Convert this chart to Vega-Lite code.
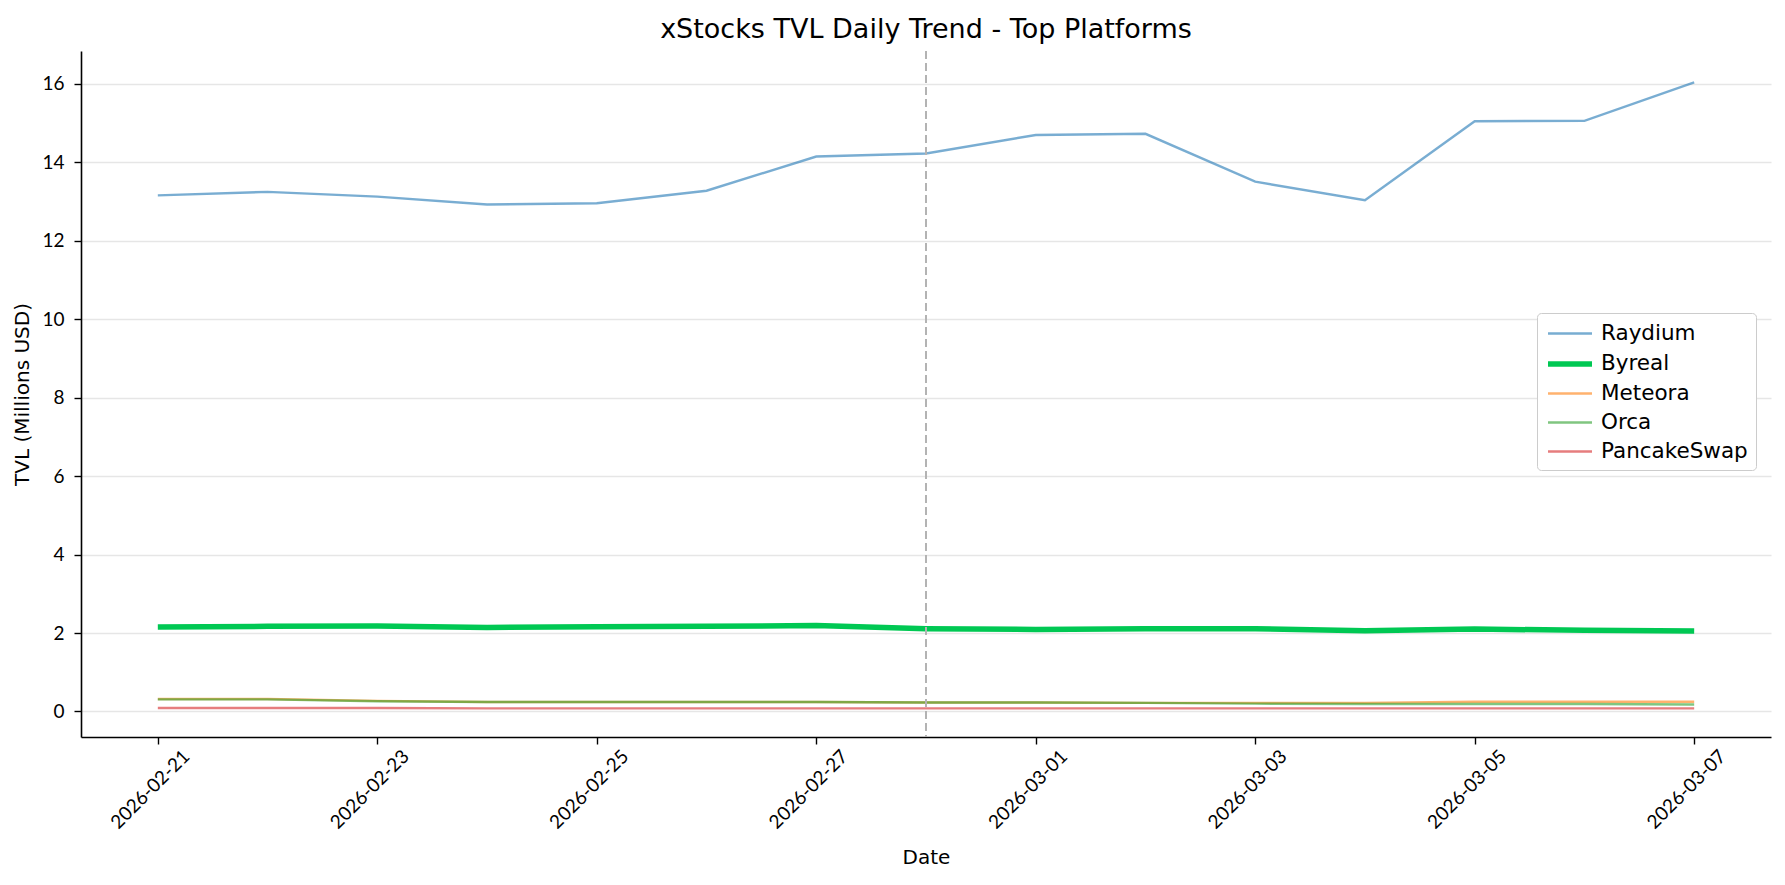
{
  "$schema": "https://vega.github.io/schema/vega-lite/v6.json",
  "autosize": "none",
  "width": 1690,
  "height": 686,
  "padding": {"left": 81, "top": 51, "right": 14, "bottom": 148},
  "background": "white",
  "title": {"text": "xStocks TVL Daily Trend - Top Platforms", "fontSize": 27, "font": "DejaVu Sans", "fontWeight": "normal", "color": "black", "offset": 6},
  "config": {
    "view": {"stroke": null},
    "font": "DejaVu Sans",
    "axis": {
      "domainColor": "black", "domainWidth": 1.6, "tickColor": "black", "tickWidth": 1.4, "tickSize": 7,
      "labelFont": "Lato", "labelFontSize": 19, "labelColor": "black", "labelPadding": 10,
      "titleFont": "DejaVu Sans", "titleFontSize": 20, "titleFontWeight": "normal", "titleColor": "black",
      "gridColor": "#e6e6e6", "gridWidth": 1.3
    },
    "legend": {
      "orient": "none", "legendX": 1456, "legendY": 262,
      "symbolType": "M-2,0H2", "symbolSize": 484, "symbolOffset": 11,
      "labelFont": "DejaVu Sans", "labelFontSize": 21.5, "labelColor": "black",
      "strokeColor": "#cccccc", "fillColor": "white", "cornerRadius": 4, "padding": 8, "rowPadding": 6, "labelOffset": 17
    }
  },
  "layer": [
    {
      "data": {"values": [
        {"date": "2026-02-21", "platform": "Raydium", "tvl": 13.15},
        {"date": "2026-02-22", "platform": "Raydium", "tvl": 13.24},
        {"date": "2026-02-23", "platform": "Raydium", "tvl": 13.12},
        {"date": "2026-02-24", "platform": "Raydium", "tvl": 12.92},
        {"date": "2026-02-25", "platform": "Raydium", "tvl": 12.95},
        {"date": "2026-02-26", "platform": "Raydium", "tvl": 13.27},
        {"date": "2026-02-27", "platform": "Raydium", "tvl": 14.14},
        {"date": "2026-02-28", "platform": "Raydium", "tvl": 14.22},
        {"date": "2026-03-01", "platform": "Raydium", "tvl": 14.69},
        {"date": "2026-03-02", "platform": "Raydium", "tvl": 14.72},
        {"date": "2026-03-03", "platform": "Raydium", "tvl": 13.50},
        {"date": "2026-03-04", "platform": "Raydium", "tvl": 13.03},
        {"date": "2026-03-05", "platform": "Raydium", "tvl": 15.04},
        {"date": "2026-03-06", "platform": "Raydium", "tvl": 15.05},
        {"date": "2026-03-07", "platform": "Raydium", "tvl": 16.03},
        {"date": "2026-02-21", "platform": "Byreal", "tvl": 2.15},
        {"date": "2026-02-22", "platform": "Byreal", "tvl": 2.17},
        {"date": "2026-02-23", "platform": "Byreal", "tvl": 2.18},
        {"date": "2026-02-24", "platform": "Byreal", "tvl": 2.14},
        {"date": "2026-02-25", "platform": "Byreal", "tvl": 2.16},
        {"date": "2026-02-26", "platform": "Byreal", "tvl": 2.17},
        {"date": "2026-02-27", "platform": "Byreal", "tvl": 2.19},
        {"date": "2026-02-28", "platform": "Byreal", "tvl": 2.11},
        {"date": "2026-03-01", "platform": "Byreal", "tvl": 2.09},
        {"date": "2026-03-02", "platform": "Byreal", "tvl": 2.11},
        {"date": "2026-03-03", "platform": "Byreal", "tvl": 2.11},
        {"date": "2026-03-04", "platform": "Byreal", "tvl": 2.06},
        {"date": "2026-03-05", "platform": "Byreal", "tvl": 2.10},
        {"date": "2026-03-06", "platform": "Byreal", "tvl": 2.07},
        {"date": "2026-03-07", "platform": "Byreal", "tvl": 2.05},
        {"date": "2026-02-21", "platform": "Meteora", "tvl": 0.32},
        {"date": "2026-02-22", "platform": "Meteora", "tvl": 0.32},
        {"date": "2026-02-23", "platform": "Meteora", "tvl": 0.27},
        {"date": "2026-02-24", "platform": "Meteora", "tvl": 0.24},
        {"date": "2026-02-25", "platform": "Meteora", "tvl": 0.24},
        {"date": "2026-02-26", "platform": "Meteora", "tvl": 0.24},
        {"date": "2026-02-27", "platform": "Meteora", "tvl": 0.24},
        {"date": "2026-02-28", "platform": "Meteora", "tvl": 0.23},
        {"date": "2026-03-01", "platform": "Meteora", "tvl": 0.23},
        {"date": "2026-03-02", "platform": "Meteora", "tvl": 0.22},
        {"date": "2026-03-03", "platform": "Meteora", "tvl": 0.22},
        {"date": "2026-03-04", "platform": "Meteora", "tvl": 0.22},
        {"date": "2026-03-05", "platform": "Meteora", "tvl": 0.25},
        {"date": "2026-03-06", "platform": "Meteora", "tvl": 0.25},
        {"date": "2026-03-07", "platform": "Meteora", "tvl": 0.25},
        {"date": "2026-02-21", "platform": "Orca", "tvl": 0.31},
        {"date": "2026-02-22", "platform": "Orca", "tvl": 0.31},
        {"date": "2026-02-23", "platform": "Orca", "tvl": 0.26},
        {"date": "2026-02-24", "platform": "Orca", "tvl": 0.24},
        {"date": "2026-02-25", "platform": "Orca", "tvl": 0.24},
        {"date": "2026-02-26", "platform": "Orca", "tvl": 0.24},
        {"date": "2026-02-27", "platform": "Orca", "tvl": 0.24},
        {"date": "2026-02-28", "platform": "Orca", "tvl": 0.23},
        {"date": "2026-03-01", "platform": "Orca", "tvl": 0.23},
        {"date": "2026-03-02", "platform": "Orca", "tvl": 0.22},
        {"date": "2026-03-03", "platform": "Orca", "tvl": 0.20},
        {"date": "2026-03-04", "platform": "Orca", "tvl": 0.19},
        {"date": "2026-03-05", "platform": "Orca", "tvl": 0.19},
        {"date": "2026-03-06", "platform": "Orca", "tvl": 0.19},
        {"date": "2026-03-07", "platform": "Orca", "tvl": 0.18},
        {"date": "2026-02-21", "platform": "PancakeSwap", "tvl": 0.09},
        {"date": "2026-02-22", "platform": "PancakeSwap", "tvl": 0.09},
        {"date": "2026-02-23", "platform": "PancakeSwap", "tvl": 0.09},
        {"date": "2026-02-24", "platform": "PancakeSwap", "tvl": 0.08},
        {"date": "2026-02-25", "platform": "PancakeSwap", "tvl": 0.08},
        {"date": "2026-02-26", "platform": "PancakeSwap", "tvl": 0.08},
        {"date": "2026-02-27", "platform": "PancakeSwap", "tvl": 0.08},
        {"date": "2026-02-28", "platform": "PancakeSwap", "tvl": 0.08},
        {"date": "2026-03-01", "platform": "PancakeSwap", "tvl": 0.08},
        {"date": "2026-03-02", "platform": "PancakeSwap", "tvl": 0.08},
        {"date": "2026-03-03", "platform": "PancakeSwap", "tvl": 0.08},
        {"date": "2026-03-04", "platform": "PancakeSwap", "tvl": 0.08},
        {"date": "2026-03-05", "platform": "PancakeSwap", "tvl": 0.08},
        {"date": "2026-03-06", "platform": "PancakeSwap", "tvl": 0.08},
        {"date": "2026-03-07", "platform": "PancakeSwap", "tvl": 0.08}
      ]},
      "mark": {"type": "line"},
      "encoding": {
        "x": {
          "field": "date", "type": "temporal", "title": "Date",
          "scale": {"type": "utc", "domain": [
            {"year": 2026, "month": 2, "date": 20, "hours": 7, "minutes": 12, "utc": true},
            {"year": 2026, "month": 3, "date": 7, "hours": 16, "minutes": 48, "utc": true}
          ]},
          "axis": {
            "grid": false, "format": "%Y-%m-%d", "labelAngle": -45, "labelAlign": "center", "labelBaseline": "middle",
            "labelPadding": 45, "labelOffset": -8, "labelFlush": false, "labelOverlap": false,
            "titlePadding": 15,
            "values": [
              {"year": 2026, "month": 2, "date": 21, "utc": true},
              {"year": 2026, "month": 2, "date": 23, "utc": true},
              {"year": 2026, "month": 2, "date": 25, "utc": true},
              {"year": 2026, "month": 2, "date": 27, "utc": true},
              {"year": 2026, "month": 3, "date": 1, "utc": true},
              {"year": 2026, "month": 3, "date": 3, "utc": true},
              {"year": 2026, "month": 3, "date": 5, "utc": true},
              {"year": 2026, "month": 3, "date": 7, "utc": true}
            ]
          }
        },
        "y": {
          "field": "tvl", "type": "quantitative", "title": "TVL (Millions USD)",
          "scale": {"domain": [-0.65, 16.83], "nice": false, "zero": false},
          "axis": {"values": [0, 2, 4, 6, 8, 10, 12, 14, 16], "grid": true, "titlePadding": 9}
        },
        "color": {
          "field": "platform", "type": "nominal", "title": null,
          "scale": {"domain": ["Raydium", "Byreal", "Meteora", "Orca", "PancakeSwap"], "range": ["#1f77b4", "#00c853", "#ff7f0e", "#2ca02c", "#d62728"]}
        },
        "opacity": {
          "field": "platform", "type": "nominal", "title": null,
          "scale": {"type": "ordinal", "domain": ["Raydium", "Byreal", "Meteora", "Orca", "PancakeSwap"], "range": [0.6, 1, 0.6, 0.6, 0.6]}
        },
        "strokeWidth": {
          "field": "platform", "type": "nominal", "title": null,
          "scale": {"type": "ordinal", "domain": ["Raydium", "Byreal", "Meteora", "Orca", "PancakeSwap"], "range": [2.4, 5.5, 2.4, 2.4, 2.4]}
        }
      }
    },
    {
      "data": {"values": [{"date": "2026-02-28"}]},
      "mark": {"type": "rule", "color": "#b3b3b3", "strokeDash": [8, 4], "strokeWidth": 2},
      "encoding": {"x": {"field": "date", "type": "temporal"}}
    }
  ]
}
